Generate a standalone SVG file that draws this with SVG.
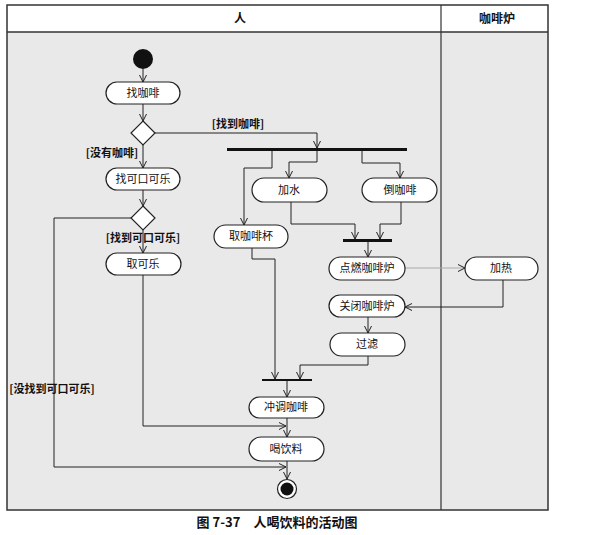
<svg xmlns="http://www.w3.org/2000/svg" width="590" height="535" viewBox="0 0 590 535">
<defs>
<marker id="arr" markerWidth="10" markerHeight="10" refX="8" refY="4" orient="auto" markerUnits="userSpaceOnUse">
<path d="M1,0.5 L8,4 L1,7.5" fill="none" stroke="#222" stroke-width="1"/>
</marker>
<style>
.node rect{fill:#fff;stroke:#222;stroke-width:1.2}
.node text,.lbl{font-family:"Noto Sans CJK SC","Liberation Sans",sans-serif;font-size:11px;fill:#111;text-anchor:middle}
.lbl{font-weight:bold}
.hdr{font-family:"Noto Sans CJK SC","Liberation Sans",sans-serif;font-size:12px;font-weight:bold;fill:#111;text-anchor:middle}
.cn path{fill:none;stroke:#222;stroke-width:1;marker-end:url(#arr)}
.bar{fill:#111}
.dia{fill:#fff;stroke:#222;stroke-width:1.2}
</style>
</defs>
<rect x="0" y="0" width="590" height="535" fill="#fff"/>
<g id="frame">
<rect x="7" y="32" width="541" height="478" fill="#e9e9e9"/>
<rect x="7" y="5" width="541" height="27" fill="#fff"/>
<rect x="7" y="5" width="541" height="505" fill="none" stroke="#333" stroke-width="1.5"/>
<line x1="7" y1="32" x2="548" y2="32" stroke="#333" stroke-width="1.5"/>
<line x1="441" y1="5" x2="441" y2="510" stroke="#333" stroke-width="1.2"/>
<text class="hdr" x="240" y="23">人</text>
<text class="hdr" x="497" y="23">咖啡炉</text>
</g>
<g id="connectors" class="cn">
<path d="M143,69 L143,82"/>
<path d="M143,104 L143,121"/>
<path d="M155,133 L317,133 L317,148"/>
<path d="M143,145 L143,168"/>
<path d="M143,190 L143,206"/>
<path d="M143,230 L143,253"/>
<path d="M131,218 L54,218 L54,467 L286,467"/>
<path d="M143,275 L143,426 L286,426"/>
<path d="M272,151 L272,168 L244,168 L244,225"/>
<path d="M317,151 L317,162 L289,162 L289,178"/>
<path d="M362,151 L362,163 L400,163 L400,178"/>
<path d="M291,202 L291,224 L355,224 L355,239"/>
<path d="M401,202 L401,224 L380,224 L380,239"/>
<path d="M368,242 L368,257"/>
<path d="M405,268 L465,268" style="stroke:#aaa"/>
<path d="M503,280 L503,307 L405,307"/>
<path d="M368,317 L368,333"/>
<path d="M368,356 L368,365 L300,365 L300,379"/>
<path d="M252,248 L252,259 L275,259 L275,379"/>
<path d="M287,381 L287,397"/>
<path d="M287,418 L287,437"/>
<path d="M287,461 L287,479"/>
</g>
<g id="labels">
<text class="lbl" x="238" y="128">[找到咖啡]</text>
<text class="lbl" x="112" y="157">[没有咖啡]</text>
<text class="lbl" x="143" y="242">[找到可口可乐]</text>
<text class="lbl" x="52" y="393">[没找到可口可乐]</text>
</g>
<g id="start"><circle cx="143" cy="59" r="10" fill="#111"/></g>
<g id="n_find_coffee" class="node"><rect x="106" y="82" width="74" height="22" rx="11"/><text x="143" y="97">找咖啡</text></g>
<g id="d1"><polygon class="dia" points="143,121 155,133 143,145 131,133"/></g>
<g id="n_find_cola" class="node"><rect x="106" y="168" width="74" height="22" rx="11"/><text x="143" y="183">找可口可乐</text></g>
<g id="d2"><polygon class="dia" points="143,206 155,218 143,230 131,218"/></g>
<g id="n_get_cola" class="node"><rect x="106" y="253" width="75" height="22" rx="11"/><text x="143" y="268">取可乐</text></g>
<g id="bar1"><rect class="bar" x="227" y="148" width="180" height="3"/></g>
<g id="n_water" class="node"><rect x="252" y="178" width="75" height="24" rx="12"/><text x="289" y="194">加水</text></g>
<g id="n_pour" class="node"><rect x="362" y="178" width="75" height="24" rx="12"/><text x="400" y="194">倒咖啡</text></g>
<g id="n_cup" class="node"><rect x="214" y="225" width="74" height="23" rx="11.5"/><text x="251" y="240">取咖啡杯</text></g>
<g id="bar2"><rect class="bar" x="343" y="239" width="49" height="3"/></g>
<g id="n_light" class="node"><rect x="329" y="257" width="76" height="23" rx="11.5"/><text x="367" y="272">点燃咖啡炉</text></g>
<g id="n_heat" class="node"><rect x="465" y="257" width="73" height="23" rx="11.5"/><text x="501" y="272">加热</text></g>
<g id="n_close" class="node"><rect x="329" y="295" width="76" height="22" rx="11"/><text x="367" y="310">关闭咖啡炉</text></g>
<g id="n_filter" class="node"><rect x="330" y="333" width="75" height="23" rx="11.5"/><text x="367" y="348">过滤</text></g>
<g id="bar3"><rect class="bar" x="262" y="379" width="50" height="2"/></g>
<g id="n_brew" class="node"><rect x="249" y="397" width="75" height="21" rx="10.5"/><text x="286" y="411">冲调咖啡</text></g>
<g id="n_drink" class="node"><rect x="249" y="437" width="75" height="24" rx="12"/><text x="286" y="453">喝饮料</text></g>
<g id="final"><circle cx="287" cy="489" r="9.5" fill="#fff" stroke="#222" stroke-width="1.2"/><circle cx="287" cy="489" r="6.5" fill="#111"/></g>
<text x="277" y="527" font-family="Noto Sans CJK SC, Liberation Sans, sans-serif" font-size="13" font-weight="bold" text-anchor="middle" fill="#111">图 7-37　人喝饮料的活动图</text>
</svg>
